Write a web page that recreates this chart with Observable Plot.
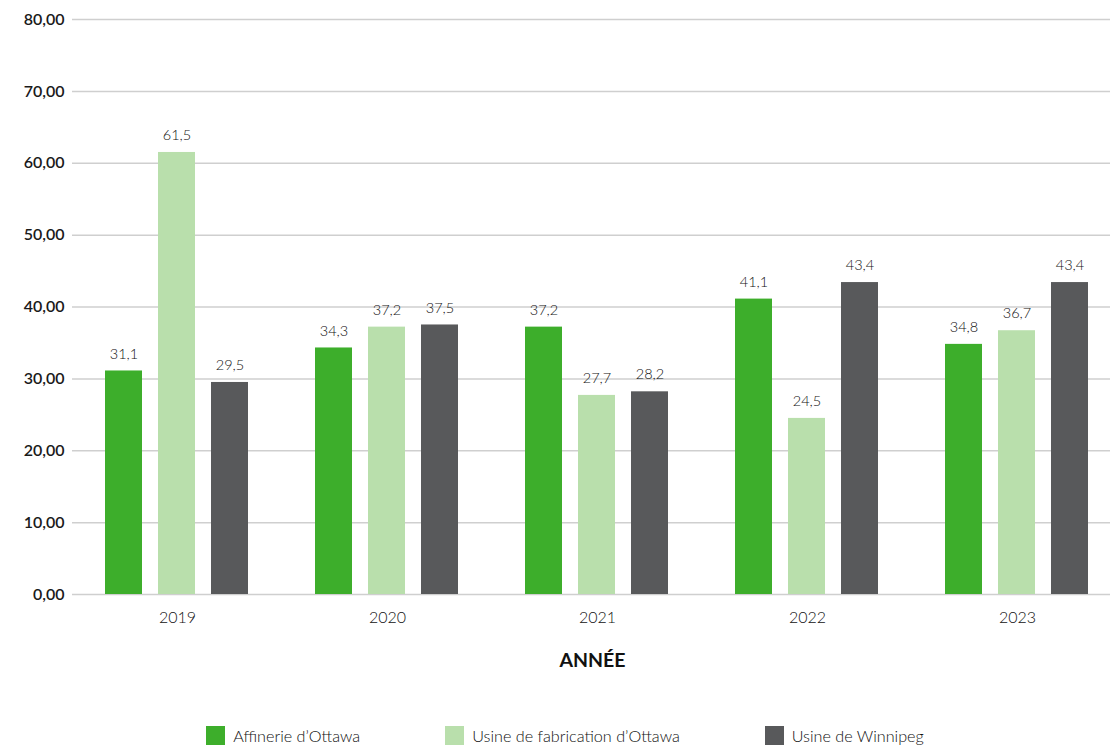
<!DOCTYPE html>
<html lang="fr">
<head>
<meta charset="utf-8">
<script src="https://cdn.jsdelivr.net/npm/d3@7"></script>
<script src="https://cdn.jsdelivr.net/npm/@observablehq/plot@0.6"></script>
<style>
  html, body { margin: 0; padding: 0; background: #fff; }
  body { width: 1110px; height: 747px; overflow: hidden; font-family: Lato, "Noto Sans", sans-serif; }
  #legend { display: flex; justify-content: center; gap: 85px; margin-top: 26px; padding-left: 20px;
            font-family: Lato, sans-serif; font-weight: 300; font-size: 16.2px; color: #111; }
  .item { display: flex; align-items: center; gap: 8px; }
  .sw { width: 19px; height: 19px; display: inline-block; }
</style>
</head>
<body>
<div id="chart"></div>
<div id="legend"></div>
<script>
const years = ["2019", "2020", "2021", "2022", "2023"];
const series = ["Affinerie d’Ottawa", "Usine de fabrication d’Ottawa", "Usine de Winnipeg"];
const affinerie = [31.1, 34.3, 37.2, 41.1, 34.8];
const usineOttawa = [61.5, 37.2, 27.7, 24.5, 36.7];
const winnipeg = [29.5, 37.5, 28.2, 43.4, 43.4];
const colors = ["#3DAE2B", "#B9DFAC", "#58595B"];
const yTicks = [0, 10, 20, 30, 40, 50, 60, 70, 80];
const xTitle = "ANNÉE";

const valuesBySeries = [affinerie, usineOttawa, winnipeg];
const rows = [];
years.forEach((y, i) => series.forEach((s, j) => rows.push({year: y, series: s, value: valuesBySeries[j][i]})));

const fr1 = d => d.toFixed(1).replace(".", ",");
const fr2 = d => d.toFixed(2).replace(".", ",");

const chart = Plot.plot({
  width: 1110,
  height: 700,
  marginLeft: 78,
  marginRight: 2,
  marginTop: 19,
  marginBottom: 106,
  style: {fontFamily: "Lato, 'Noto Sans', sans-serif", background: "#fff"},
  fx: {domain: years, range: [71, 1123], padding: 0, label: null, axis: null},
  x: {domain: series, paddingInner: 0.296, paddingOuter: 0.597, axis: null},
  y: {domain: [0, 80], label: null},
  color: {domain: series, range: colors},
  marks: [
    Plot.ruleY(yTicks, {stroke: "#cfcfcf", strokeWidth: 1.5}),
    Plot.axisY(yTicks, {tickSize: 0, tickPadding: 8, tickFormat: fr2, fontSize: 16, fontWeight: 600, fill: "#1a1a1a", label: null}),
    Plot.axisFx({anchor: "bottom", tickSize: 0, tickPadding: 17, fontSize: 16, fontWeight: 300, fill: "#111", label: null}),
    Plot.barY(rows, {fx: "year", x: "series", y: "value", fill: "series"}),
    Plot.text(rows, {fx: "year", x: "series", y: "value", text: d => fr1(d.value), dy: -17, fontSize: 14.5, fontWeight: 300, fill: "#111"}),
    Plot.text([xTitle], {facet: "super", frameAnchor: "bottom", text: d => d, dy: 72, dx: -5, fontSize: 19.5, fontWeight: 700, fill: "#111"})
  ]
});
document.getElementById("chart").appendChild(chart);

const legend = document.getElementById("legend");
series.forEach((s, i) => {
  const it = document.createElement("div");
  it.className = "item";
  const sw = document.createElement("span");
  sw.className = "sw";
  sw.style.background = colors[i];
  const t = document.createElement("span");
  t.textContent = s;
  it.appendChild(sw);
  it.appendChild(t);
  legend.appendChild(it);
});
</script>
</body>
</html>
